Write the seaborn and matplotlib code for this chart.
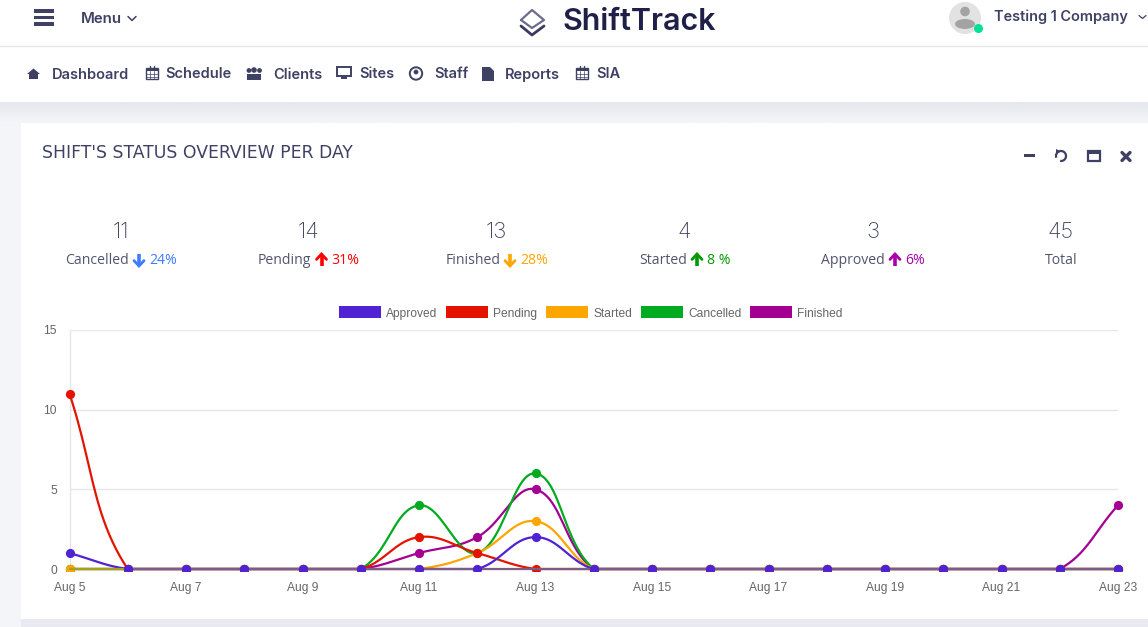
"""Shift status overview dashboard, seaborn line chart inside a page mock-up."""

import matplotlib

matplotlib.use("Agg")

import matplotlib.pyplot as plt
import numpy as np
import pandas as pd
import seaborn as sns
from matplotlib.colors import LinearSegmentedColormap
from matplotlib.patches import Arc, Circle, Ellipse, Patch, Polygon, Rectangle
from matplotlib.transforms import Bbox

days = list(range(5, 24))
tick_days = days[::2]
tick_labels = [f"Aug {day}" for day in tick_days]
y_ticks = [0, 5, 10, 15]

approved = [1, 0, 0, 0, 0, 0, 0, 0, 2, 0, 0, 0, 0, 0, 0, 0, 0, 0, 0]
pending = [11, 0, 0, 0, 0, 0, 2, 1, 0, 0, 0, 0, 0, 0, 0, 0, 0, 0, 0]
started = [0, 0, 0, 0, 0, 0, 0, 1, 3, 0, 0, 0, 0, 0, 0, 0, 0, 0, 0]
cancelled = [0, 0, 0, 0, 0, 0, 4, 1, 6, 0, 0, 0, 0, 0, 0, 0, 0, 0, 0]
finished = [0, 0, 0, 0, 0, 0, 1, 2, 5, 0, 0, 0, 0, 0, 0, 0, 0, 0, 4]

series_names = ["Approved", "Pending", "Started", "Cancelled", "Finished"]
series_values = [approved, pending, started, cancelled, finished]
series_colors = ["#4f22d3", "#e41300", "#ffa500", "#00ab1f", "#a30093"]

stat_values = ["11", "14", "13", "4", "3", "45"]
stat_names = ["Cancelled", "Pending", "Finished", "Started", "Approved", "Total"]
stat_changes = ["24%", "31%", "28%", "8 %", "6%", ""]
stat_arrows = ["down", "up", "down", "up", "up", ""]
stat_colors = ["#3f7bff", "#ff0000", "#ffa500", "#009900", "#aa00aa", "#000000"]

nav_labels = ["Dashboard", "Schedule", "Clients", "Sites", "Staff", "Reports", "SIA"]
nav_x = [52, 165, 273, 359, 434, 505, 596]
nav_y = [74, 73, 74, 73, 73, 74, 73]

INK = "#3f4164"
WIDTH, HEIGHT = 1148, 627
PLOT_LEFT, PLOT_RIGHT, PLOT_TOP, PLOT_BOTTOM = 69.5, 1118, 330, 569


def bezier_curve(xs, ys, x_scale, y_scale, tension=0.4, steps=24):
    """Sample the tension spline through the points, capped at the zero line."""
    px = np.asarray(xs, dtype=float) * x_scale
    py = np.asarray(ys, dtype=float) * y_scale
    count = len(px)
    before = np.zeros((count, 2))
    after = np.zeros((count, 2))
    for i in range(count):
        prev_i, next_i = max(i - 1, 0), min(i + 1, count - 1)
        d01 = np.hypot(px[i] - px[prev_i], py[i] - py[prev_i])
        d12 = np.hypot(px[next_i] - px[i], py[next_i] - py[i])
        total = d01 + d12
        s01 = d01 / total if total else 0
        s12 = d12 / total if total else 0
        dx, dy = px[next_i] - px[prev_i], py[next_i] - py[prev_i]
        before[i] = px[i] - tension * s01 * dx, py[i] - tension * s01 * dy
        after[i] = px[i] + tension * s12 * dx, py[i] + tension * s12 * dy
    before[:, 1] = np.maximum(before[:, 1], 0)
    after[:, 1] = np.maximum(after[:, 1], 0)

    t = np.linspace(0, 1, steps)[:, None]
    parts = []
    for i in range(count - 1):
        p0 = np.array([px[i], py[i]])
        p3 = np.array([px[i + 1], py[i + 1]])
        parts.append(
            (1 - t) ** 3 * p0
            + 3 * (1 - t) ** 2 * t * after[i]
            + 3 * (1 - t) * t**2 * before[i + 1]
            + t**3 * p3
        )
    curve = np.vstack(parts)
    return curve[:, 0] / x_scale, curve[:, 1] / y_scale


def text(ax, x, y, label, size, color=INK, family="Inter", weight="normal", ha="left", **kwargs):
    ax.text(x, y + 2, label, fontsize=size * 0.72, color=color, family=family, weight=weight,
            ha=ha, va="center", **kwargs)


def calendar_icon(ax, x, y):
    ax.add_patch(Rectangle((x - 6, y - 5), 12, 11, fill=False, ec=INK, lw=1, zorder=3))
    ax.add_patch(Rectangle((x - 6, y - 5), 12, 3, color=INK, lw=0, zorder=3))
    for gx in (x - 2, x + 2):
        ax.plot([gx, gx], [y - 2, y + 6], color=INK, lw=0.5, zorder=3)
        ax.plot([gx, gx], [y - 7, y - 4], color=INK, lw=1, zorder=3)
    for gy in (y + 1, y + 3.5):
        ax.plot([x - 6, x + 6], [gy, gy], color=INK, lw=0.5, zorder=3)


def stat_arrow(ax, x, y, direction, color):
    tip = 6 if direction == "down" else -6
    ax.plot([x - 5, x, x + 5], [y + tip * 0.1, y + tip, y + tip * 0.1], color=color, lw=2,
            solid_joinstyle="miter", zorder=3)
    ax.plot([x, x], [y - tip, y + tip * 0.8], color=color, lw=2.6, solid_capstyle="butt", zorder=3)


def draw_page(ax):
    ax.set_xlim(0, WIDTH)
    ax.set_ylim(HEIGHT, 0)
    ax.axis("off")

    ax.add_patch(Rectangle((0, 0), WIDTH, 102, color="white", lw=0))
    shadow = np.linspace(0, 1, 20)[:, None]
    ax.imshow(shadow, extent=(0, WIDTH, 123, 102), aspect="auto", zorder=1,
              cmap=LinearSegmentedColormap.from_list("shadow", ["#e7e8ed", "#f4f5f9"]))
    ax.set_xlim(0, WIDTH)
    ax.set_ylim(HEIGHT, 0)
    ax.plot([0, WIDTH], [45.5, 45.5], color="#e6e6e6", lw=1, zorder=2)
    ax.add_patch(Rectangle((21, 123), WIDTH - 21, 496, color="white", lw=0, zorder=2))
    ax.add_patch(Rectangle((21, 619), WIDTH - 21, 8, color="#e9e9f1", lw=0, zorder=1))

    # top bar
    for bar_y in (11, 17.5, 24):
        ax.add_patch(Rectangle((34, bar_y - 1.8), 20, 3.6, color=INK, lw=0, zorder=3))
    text(ax, 81, 17, "Menu", 15, weight="semibold", zorder=3)
    ax.plot([128, 132, 136], [16.5, 20.5, 16.5], color=INK, lw=1.1, zorder=3)

    ax.plot([521, 532, 544, 532, 521], [20, 10, 20, 28, 20], color="#6d6a8e", lw=1.6, zorder=3)
    ax.plot([521, 532, 544], [26, 35, 26], color="#3b3a60", lw=2, zorder=3)
    text(ax, 562, 20, "ShiftTrack", 30.5, color="#1f1f47", weight="semibold", zorder=3)

    ax.add_patch(Circle((965, 18), 16, color="#e2e2e2", lw=0, zorder=3))
    ax.add_patch(Circle((965, 11.5), 4.8, color="#a3a3a3", lw=0, zorder=4))
    ax.add_patch(Ellipse((965, 24), 20, 10, color="#a3a3a3", lw=0, zorder=4))
    ax.add_patch(Circle((978.5, 28.5), 4.5, color="#00e097", lw=0, zorder=5))
    text(ax, 994, 14.5, "Testing 1 Company", 14.5, weight="semibold", zorder=3)
    ax.plot([1139, 1142.5, 1146], [15.5, 18.5, 15.5], color=INK, lw=0.9, zorder=3)

    # navigation
    for label, x, y in zip(nav_labels, nav_x, nav_y):
        text(ax, x, y - 1, label, 14.6, weight="semibold", zorder=3)
    ax.add_patch(Polygon([(27, 74), (33.5, 68.5), (40, 74), (38, 74), (38, 79), (29, 79), (29, 74)],
                         color=INK, lw=0, zorder=3))
    calendar_icon(ax, 151.5, 73)
    calendar_icon(ax, 582, 73)
    for cx, cy, r in ((249, 70.5, 2.4), (254, 70, 2.8), (259.5, 70.5, 2.4)):
        ax.add_patch(Circle((cx, cy), r, color=INK, lw=0, zorder=3))
    ax.add_patch(Rectangle((247, 74), 14, 6, color=INK, lw=0, zorder=3))
    ax.add_patch(Rectangle((337, 67), 14, 9, fill=False, ec=INK, lw=1.4, zorder=3))
    ax.add_patch(Rectangle((341, 77), 6, 2, color=INK, lw=0, zorder=3))
    ax.add_patch(Circle((416, 73.5), 6.2, fill=False, ec=INK, lw=1.4, zorder=3))
    ax.add_patch(Circle((416, 72), 2.4, color=INK, lw=0, zorder=3))
    ax.add_patch(Polygon([(482, 67), (490, 67), (494, 71), (494, 81), (482, 81)], color=INK, lw=0, zorder=3))

    # card header
    text(ax, 41.5, 150.5, "SHIFT'S STATUS OVERVIEW PER DAY", 17.3, family="DejaVu Sans", zorder=3)
    ax.add_patch(Rectangle((1024, 154), 11, 3.2, color=INK, lw=0, zorder=3))
    ax.add_patch(Arc((1061, 156), 10, 10, theta1=-200, theta2=100, ec=INK, lw=1.6, zorder=3))
    ax.add_patch(Polygon([(1056, 149), (1056, 154), (1061, 151.5)], color=INK, lw=0, zorder=3))
    ax.add_patch(Rectangle((1088, 151), 12, 10, fill=False, ec=INK, lw=1.6, zorder=3))
    ax.add_patch(Rectangle((1088, 151), 12, 3, color=INK, lw=0, zorder=3))
    ax.plot([1122, 1130], [152.5, 160.5], color=INK, lw=2.4, zorder=3)
    ax.plot([1122, 1130], [160.5, 152.5], color=INK, lw=2.4, zorder=3)


def draw_stats(ax):
    centers = [120.5, 308.5, 496.5, 684.5, 872.5, 1060.5]
    name_left = [65, 258, 445.5, 639, 821, 1044.5]
    arrow_x = [139, 321.5, 510, 697, 895]
    change_x = [149, 331, 520.5, 707, 905]
    for i, center in enumerate(centers):
        text(ax, center, 230, stat_values[i], 22, color="#45465f", weight="light", ha="center", zorder=3)
        text(ax, name_left[i], 259, stat_names[i], 14, color="#52546f", family="Open Sans", zorder=3)
        if stat_changes[i]:
            stat_arrow(ax, arrow_x[i], 260, stat_arrows[i], stat_colors[i])
            text(ax, change_x[i], 259, stat_changes[i], 14, color=stat_colors[i], family="Open Sans", zorder=3)


def draw_chart(ax):
    x_scale = (PLOT_RIGHT - PLOT_LEFT) / (days[-1] - days[0])
    y_scale = (PLOT_BOTTOM - PLOT_TOP) / y_ticks[-1]

    # first series ends up on top, so draw back to front
    for order, (name, values, color) in enumerate(
        reversed(list(zip(series_names, series_values, series_colors)))
    ):
        curve_x, curve_y = bezier_curve(days, values, x_scale, y_scale)
        frame = pd.DataFrame({"day": curve_x, "shifts": curve_y})
        sns.lineplot(data=frame, x="day", y="shifts", color=color, linewidth=1.6,
                     estimator=None, sort=False, ax=ax, zorder=3 + order)
        points = pd.DataFrame({"day": days, "shifts": values})
        sns.scatterplot(data=points, x="day", y="shifts", color=color, s=44, linewidth=0,
                        ax=ax, zorder=3.5 + order)

    # overlapping series blend into a muddy line along zero in the reference
    ax.plot(days[:2], [0, 0], color="#a8a01c", lw=1.6, zorder=7.2)
    ax.plot(days[1:], [0] * len(days[1:]), color="#7c5c84", lw=1.6, zorder=7.2)

    # marks may overflow every side except the bottom, where they get cut 1.5 px under zero
    clip = Bbox([[0, HEIGHT - PLOT_BOTTOM - 1.5], [WIDTH, HEIGHT]])
    for artist in list(ax.lines) + list(ax.collections):
        artist.set_clip_path(None)
        artist.set_clip_box(clip)

    ax.set_xlim(days[0], days[-1])
    ax.set_ylim(y_ticks[0], y_ticks[-1])
    ax.set_xticks(tick_days, tick_labels)
    ax.set_yticks(y_ticks)
    ax.set_xlabel("")
    ax.set_ylabel("")
    ax.set_facecolor("none")
    ax.grid(axis="y", color="#e6e6e6", lw=1)
    ax.grid(axis="x", visible=False)
    ax.tick_params(axis="both", length=6, width=1, color="#e6e6e6", labelsize=8.64,
                   labelcolor="#666666", pad=3)
    for label in ax.get_xticklabels() + ax.get_yticklabels():
        label.set_family("Liberation Sans")
    for side in ("top", "right"):
        ax.spines[side].set_visible(False)
    for side in ("left", "bottom"):
        ax.spines[side].set_color("#e6e6e6")
        ax.spines[side].set_linewidth(1)

    handles = [Patch(facecolor=color, edgecolor="none", label=name)
               for name, color in zip(series_names, series_colors)]
    legend = ax.legend(handles=handles, ncol=5, loc="center", frameon=False,
                       bbox_to_anchor=(0.497, 1 + 17 / (PLOT_BOTTOM - PLOT_TOP)),
                       handlelength=3.5, handleheight=1.15, handletextpad=0.45, columnspacing=0.72,
                       prop={"family": "Liberation Sans", "size": 8.64})
    for label in legend.get_texts():
        label.set_color("#666666")


def main():
    sns.set_theme(style="white")
    fig = plt.figure(figsize=(WIDTH / 100, HEIGHT / 100), dpi=100, facecolor="#f4f5f9")

    page = fig.add_axes([0, 0, 1, 1], facecolor="none")
    draw_page(page)
    draw_stats(page)

    chart = fig.add_axes([
        PLOT_LEFT / WIDTH,
        1 - PLOT_BOTTOM / HEIGHT,
        (PLOT_RIGHT - PLOT_LEFT) / WIDTH,
        (PLOT_BOTTOM - PLOT_TOP) / HEIGHT,
    ])
    draw_chart(chart)

    fig.savefig("out.png", dpi=100, facecolor=fig.get_facecolor())
    plt.close(fig)


if __name__ == "__main__":
    main()
